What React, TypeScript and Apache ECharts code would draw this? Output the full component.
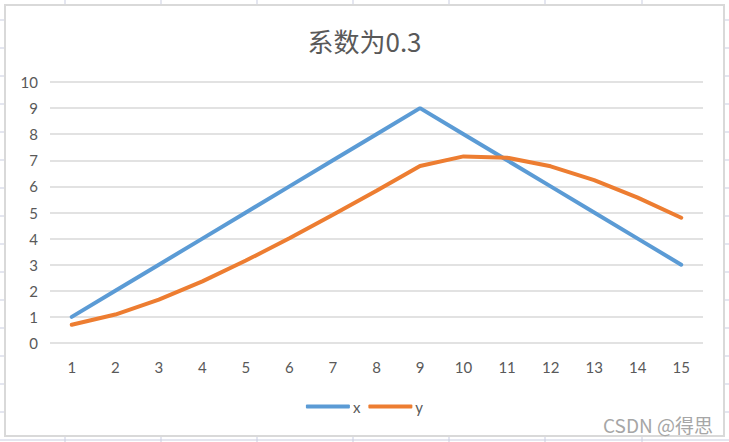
import React, { useEffect, useRef } from "react";
import * as echarts from "echarts";

const categories = ["1", "2", "3", "4", "5", "6", "7", "8", "9", "10", "11", "12", "13", "14", "15"];
const xValues = [1, 2, 3, 4, 5, 6, 7, 8, 9, 8, 7, 6, 5, 4, 3];
const yValues = [0.7, 1.09, 1.66, 2.36, 3.16, 4.01, 4.91, 5.83, 6.78, 7.15, 7.1, 6.77, 6.24, 5.57, 4.8];
const titleText = "系数为0.3";
const watermark = "CSDN @得思";

const cellCols = [65, 161, 257, 353, 449, 545, 642];
const cellRows = [20, 48, 76, 104, 132, 160, 188, 216, 244, 272, 300, 328, 356, 384, 412];

export default function App() {
  const ref = useRef<HTMLDivElement>(null);
  useEffect(() => {
    if (!ref.current) return;
    const chart = echarts.init(ref.current, undefined, { renderer: "svg" });
    const cellColor = "#c9cde0";
    const graphics: any[] = [];
    cellCols.forEach((x) => {
      graphics.push({ type: "line", shape: { x1: x, y1: 0, x2: x, y2: 4 }, style: { stroke: cellColor, lineWidth: 1 }, silent: true });
      graphics.push({ type: "line", shape: { x1: x, y1: 437, x2: x, y2: 442 }, style: { stroke: cellColor, lineWidth: 1 }, silent: true });
    });
    cellRows.forEach((y) => {
      graphics.push({ type: "line", shape: { x1: 0, y1: y, x2: 4, y2: y }, style: { stroke: cellColor, lineWidth: 1 }, silent: true });
      graphics.push({ type: "line", shape: { x1: 725, y1: y, x2: 729, y2: y }, style: { stroke: cellColor, lineWidth: 1 }, silent: true });
    });
    graphics.push({ type: "line", shape: { x1: 0, y1: 440, x2: 729, y2: 440 }, style: { stroke: cellColor, lineWidth: 1 }, silent: true });
    graphics.push({
      type: "rect",
      shape: { x: 5, y: 5, width: 719, height: 431 },
      style: { fill: "none", stroke: "#d9d9d9", lineWidth: 2 },
      silent: true,
    });
    graphics.push({
      type: "text",
      x: 713,
      y: 424,
      style: {
        text: watermark,
        fill: "#a6a6a6",
        font: '19px "Noto Sans CJK SC", sans-serif',
        textAlign: "right",
        textVerticalAlign: "middle",
      },
      silent: true,
    });

    chart.setOption({
      animation: false,
      backgroundColor: "#ffffff",
      title: {
        text: titleText,
        left: "center",
        top: 22,
        textStyle: {
          color: "#595959",
          fontSize: 26,
          fontWeight: "normal",
          fontFamily: '"Noto Sans CJK SC", sans-serif',
        },
      },
      legend: {
        bottom: 23,
        left: "center",
        icon: "roundRect",
        itemWidth: 44,
        itemHeight: 4,
        itemGap: 8,
        textStyle: { color: "#595959", fontSize: 15, fontFamily: "Lato, sans-serif", padding: [0, 0, 0, -2] },
        data: ["x", "y"],
      },
      grid: { left: 50, right: 26, top: 82, bottom: 99, containLabel: false },
      xAxis: {
        type: "category",
        data: categories,
        boundaryGap: true,
        axisLine: { show: false },
        axisTick: { show: false },
        axisLabel: { color: "#595959", fontSize: 15, fontFamily: "Lato, sans-serif", margin: 16 },
      },
      yAxis: {
        type: "value",
        min: 0,
        max: 10,
        interval: 1,
        axisLine: { show: false },
        axisTick: { show: false },
        axisLabel: { color: "#595959", fontSize: 15, fontFamily: "Lato, sans-serif", margin: 12 },
        splitLine: { lineStyle: { color: "#d9d9d9", width: 1.5 } },
      },
      series: [
        {
          name: "x",
          type: "line",
          data: xValues,
          symbol: "none",
          lineStyle: { color: "#5B9BD5", width: 4, cap: "round" },
          itemStyle: { color: "#5B9BD5" },
        },
        {
          name: "y",
          type: "line",
          data: yValues,
          symbol: "none",
          lineStyle: { color: "#ED7D31", width: 4, cap: "round" },
          itemStyle: { color: "#ED7D31" },
        },
      ],
      graphic: graphics,
    });
    return () => chart.dispose();
  }, []);
  return <div ref={ref} style={{ position: "absolute", left: 0, top: 0, width: 729, height: 442 }} />;
}
